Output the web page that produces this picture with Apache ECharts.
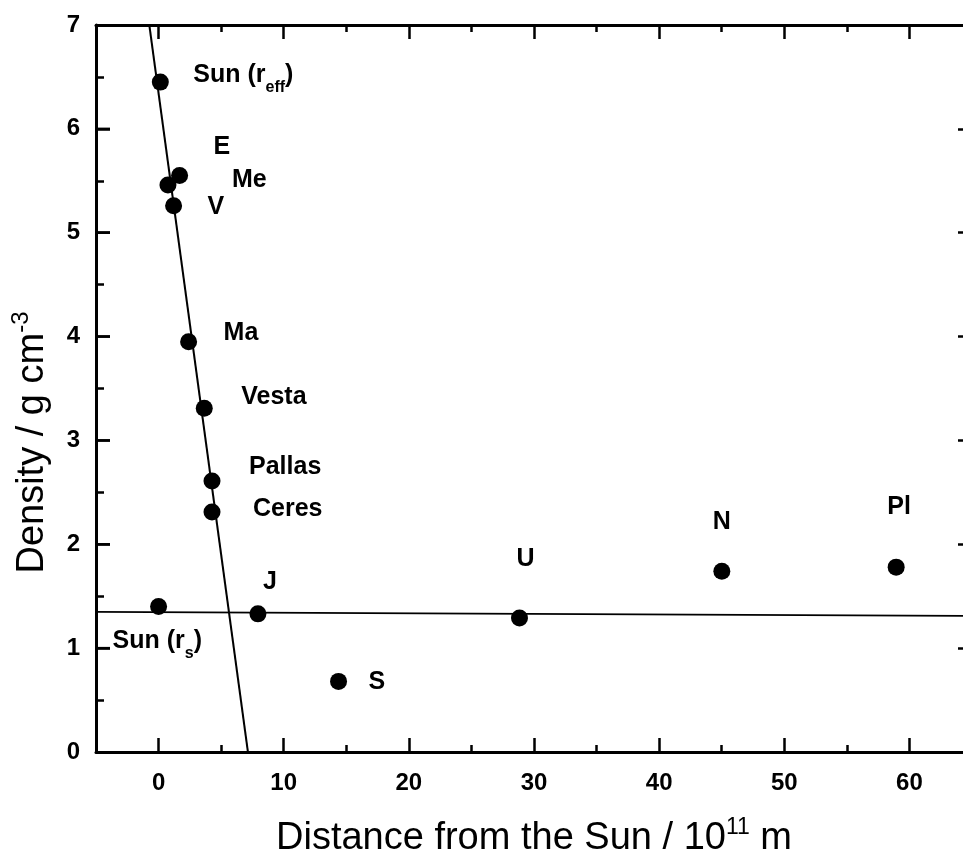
<!DOCTYPE html>
<html>
<head>
<meta charset="utf-8">
<script src="https://cdn.jsdelivr.net/npm/echarts@6/dist/echarts.min.js"></script>
<style>
html,body{margin:0;padding:0;background:#fff;}
#c{width:963px;height:857px;}
</style>
</head>
<body>
<div id="c"></div>
<script>
// ---- data ----
const bodyNames = ['Sun (r_eff)', 'Me', 'E', 'V', 'Ma', 'Vesta', 'Pallas', 'Ceres', 'Sun (r_s)', 'J', 'S', 'U', 'N', 'Pl'];
const distances = [0.14, 0.75, 1.68, 1.20, 2.40, 3.65, 4.27, 4.27, 0.00, 7.94, 14.38, 28.84, 45.01, 58.94];
const densities = [6.45, 5.46, 5.55, 5.26, 3.95, 3.31, 2.61, 2.31, 1.40, 1.33, 0.68, 1.29, 1.74, 1.78];
const steepLineX = [-0.74, 7.14];
const steepLineY = [7, 0];
const flatLineX = [-5, 65];
const flatLineY = [1.35, 1.31];
const xTickValues = [0, 10, 20, 30, 40, 50, 60];
const xMinorTickValues = [5, 15, 25, 35, 45, 55];
const yTickValues = [0, 1, 2, 3, 4, 5, 6, 7];
const yMinorTickValues = [0.5, 1.5, 2.5, 3.5, 4.5, 5.5, 6.5];

// ---- label styling (not data) ----
const labelOffsets = [[33,-7],[64,-5],[34,-28],[34,1],[35,-9],[37,-11],[37,-14],[41,-3],[-46,35],[5,-32],[30,1],[6,-59],[0,-49],[3,-60]];
const labelAligns = ['left','left','left','left','left','left','left','left','left','left','left','center','center','center'];

const FONT = '"Liberation Sans", Arial, Helvetica, sans-serif';
const BLACK = '#000';
const X_MIN = -5, X_MAX = 65;
const Y_MIN = yTickValues[0];
const Y_MAX = yTickValues[yTickValues.length - 1];

function fmtLabel(name) {
  return name.replace(/_(\w+)/, '{s|$1}');
}

const scatterData = bodyNames.map((n, i) => ({
  name: n,
  value: [distances[i], densities[i]],
  label: {
    offset: labelOffsets[i],
    align: labelAligns[i]
  }
}));

const axisLineStyle = { show: true, onZero: false, lineStyle: { color: BLACK, width: 3 } };
const tickStyle = { color: BLACK, width: 2.5 };

function xAxisDef(pos, values, len, withLine, withLabels) {
  return {
    type: 'value', position: pos, min: X_MIN, max: X_MAX,
    axisLine: withLine ? axisLineStyle : { show: false, onZero: false },
    axisTick: { show: true, inside: true, length: len, customValues: values, lineStyle: tickStyle },
    axisLabel: withLabels ? {
      show: true, customValues: xTickValues, margin: 19,
      fontSize: 24, fontWeight: 'bold', color: BLACK, fontFamily: FONT
    } : { show: false },
    splitLine: { show: false }
  };
}

const xAxes = [
  xAxisDef('bottom', xTickValues, 14, true, true),
  xAxisDef('bottom', xMinorTickValues, 7, false, false),
  xAxisDef('top', xTickValues, 14, true, false),
  xAxisDef('top', xMinorTickValues, 7, false, false)
];
xAxes[0].name = 'Distance from the Sun / 10{sup|11} m';
xAxes[0].nameLocation = 'middle';
xAxes[0].nameGap = 64;
xAxes[0].nameTextStyle = {
  fontSize: 38, lineHeight: 46, color: BLACK, fontFamily: FONT,
  rich: { sup: { fontSize: 23, lineHeight: 18, verticalAlign: 'top', color: BLACK, fontFamily: FONT } }
};

function yAxisDef(pos, values, len, withLine, withLabels) {
  return {
    type: 'value', position: pos, min: Y_MIN, max: Y_MAX,
    axisLine: withLine ? axisLineStyle : { show: false, onZero: false },
    axisTick: values ? { show: true, inside: true, length: len, customValues: values, lineStyle: tickStyle } : { show: false, inside: true },
    axisLabel: withLabels ? {
      show: true, customValues: yTickValues, margin: 16,
      fontSize: 24, fontWeight: 'bold', color: BLACK, fontFamily: FONT
    } : { show: false },
    splitLine: { show: false }
  };
}

const yAxes = [
  yAxisDef('left', yTickValues, 14, true, true),
  yAxisDef('left', yMinorTickValues, 8, false, false),
  yAxisDef('right', yTickValues, 14, true, false),
  yAxisDef('right', yMinorTickValues, 8, false, false)
];
yAxes[0].name = 'Density / g cm{sup|-3}';
yAxes[0].nameLocation = 'middle';
yAxes[0].nameGap = 40;
yAxes[0].nameTextStyle = {
  fontSize: 38, lineHeight: 46, color: BLACK, fontFamily: FONT,
  padding: [0, 108, 0, 0],
  rich: { sup: { fontSize: 24, lineHeight: 18, verticalAlign: 'top', color: BLACK, fontFamily: FONT } }
};

// whole-unit ticks on the left edge, positioned through the axis scales
const leftTickData = yTickValues.slice(1, -1).map(v => [X_MIN, v]);

const option = {
  backgroundColor: '#fff',
  animation: false,
  grid: { left: 96, top: 25, width: 876, height: 727, containLabel: false, outerBoundsMode: 'none' },
  xAxis: xAxes,
  yAxis: yAxes,
  series: [
    {
      type: 'line', xAxisIndex: 0, yAxisIndex: 0,
      data: steepLineX.map((x, i) => [x, steepLineY[i]]),
      symbol: 'none', lineStyle: { color: BLACK, width: 2 }, z: 2
    },
    {
      type: 'line', xAxisIndex: 0, yAxisIndex: 0,
      data: flatLineX.map((x, i) => [x, flatLineY[i]]),
      symbol: 'none', lineStyle: { color: BLACK, width: 1.8 }, z: 2
    },
    {
      type: 'custom', xAxisIndex: 0, yAxisIndex: 0,
      data: leftTickData,
      encode: { x: 0, y: 1 },
      clip: false,
      silent: true,
      z: 6,
      renderItem: function (params, api) {
        const p = api.coord([api.value(0), api.value(1)]);
        return {
          type: 'line',
          shape: { x1: p[0], y1: p[1], x2: p[0] + 14, y2: p[1] },
          style: { stroke: BLACK, lineWidth: 2.5 }
        };
      }
    },
    {
      type: 'scatter', xAxisIndex: 0, yAxisIndex: 0,
      symbol: 'circle', symbolSize: 17,
      itemStyle: { color: BLACK, opacity: 1 },
      data: scatterData,
      z: 5,
      label: {
        show: true, position: 'inside', verticalAlign: 'middle',
        formatter: p => fmtLabel(p.name),
        fontSize: 25, fontWeight: 'bold', color: BLACK, fontFamily: FONT, lineHeight: 40,
        rich: { s: { fontSize: 16, fontWeight: 'bold', lineHeight: 12, verticalAlign: 'bottom', color: BLACK, fontFamily: FONT } }
      }
    }
  ]
};

const chart = echarts.init(document.getElementById('c'), null, { renderer: 'canvas' });
chart.setOption(option);
</script>
</body>
</html>
